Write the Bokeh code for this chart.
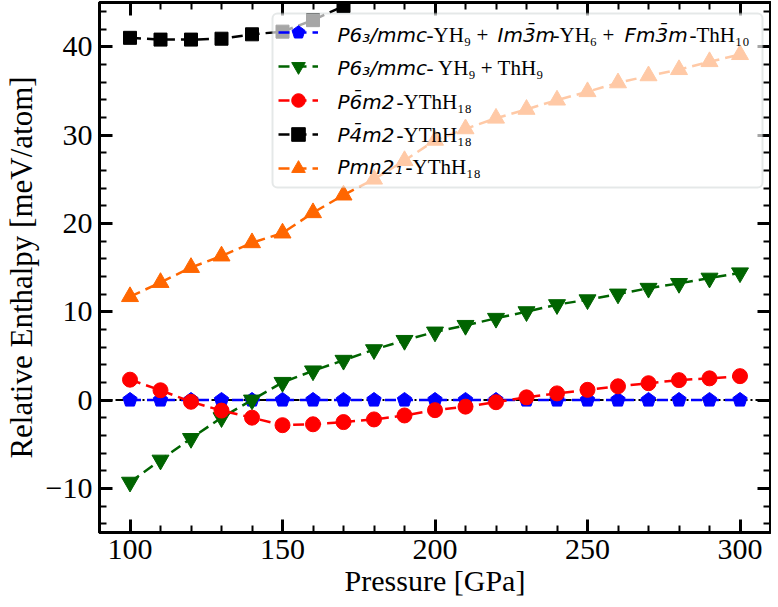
from bokeh.plotting import figure
from bokeh.models import (FixedTicker, LinearAxis, Range1d, Span, Legend, LegendItem,
                          Label, CustomJSTickFormatter, BoxAnnotation)
from bokeh.embed import file_html
from bokeh.resources import INLINE

# ---------------- data ----------------
pressure = [100, 110, 120, 130, 140, 150, 160, 170, 180, 190, 200,
            210, 220, 230, 240, 250, 260, 270, 280, 290, 300]
mix_yh9_yh6_thh10 = [0.0, 0.0, 0.0, 0.0, 0.0, 0.0, 0.0, 0.0, 0.0, 0.0, 0.0,
                     0.0, 0.0, 0.0, 0.0, 0.0, 0.0, 0.0, 0.0, 0.0, 0.0]
mix_yh9_thh9 = [-9.3, -6.8, -4.35, -2.0, 0.0, 2.0, 3.3, 4.5, 5.7, 6.75, 7.7,
                8.45, 9.25, 10.0, 10.8, 11.35, 12.0, 12.65, 13.2, 13.8, 14.4]
p6m2_ythh18 = [2.3, 1.1, -0.2, -1.2, -2.0, -2.85, -2.75, -2.5, -2.2, -1.75, -1.15,
               -0.75, -0.25, 0.3, 0.75, 1.15, 1.55, 1.9, 2.25, 2.45, 2.7]
pressure_p4m2 = [100, 110, 120, 130, 140, 150, 160, 170]
p4m2_ythh18 = [41.0, 40.8, 40.8, 40.9, 41.4, 41.7, 43.0, 44.6]
pmn21_ythh18 = [11.7, 13.3, 15.0, 16.3, 17.8, 18.9, 21.2, 23.2, 25.0, 27.1, 29.4,
                30.7, 31.9, 32.9, 33.95, 34.9, 35.9, 36.7, 37.4, 38.3, 39.1]

x_major = [100, 150, 200, 250, 300]
x_minor = [90, 110, 120, 130, 140, 160, 170, 180, 190, 210, 220, 230, 240,
           260, 270, 280, 290, 310]
y_major = [-10, 0, 10, 20, 30, 40]
y_minor = [-14, -12, -8, -6, -4, -2, 2, 4, 6, 8, 12, 14, 16, 18, 22, 24, 26, 28,
           32, 34, 36, 38, 42, 44]

# legend text: (text, kind) kind = "m" (math italic sans) or "r" (roman serif)
legend_rows = [
    [("P6₃/mmc", "m"), ("-YH₉ + ", "r"), ("Im3̄m", "m"), ("-YH₆ + ", "r"),
     ("Fm3̄m", "m"), ("-ThH₁₀", "r")],
    [("P6₃/mmc", "m"), (" - YH₉ + ThH₉", "r")],
    [("P6̄m2", "m"), ("-YThH₁₈", "r")],
    [("P4̄m2", "m"), ("-YThH₁₈", "r")],
    [("Pmn2₁", "m"), ("-YThH₁₈", "r")],
]
# segment start x and row baselines (page px) -- layout only
legend_seg_x = [[337, 426, 497, 552, 624, 689], [337, 426], [337, 396], [337, 396], [337, 405]]
legend_baseline = [41, 74, 108, 141, 173]
legend_box = (272, 762, 13, 187)  # left, right, top, bottom (page px)

SERIF = "Liberation Serif"
SANS = "DejaVu Sans"

FRAME_LEFT = 99
FRAME_BOTTOM = 532

p = figure(width=771, height=599, x_range=Range1d(90, 310), y_range=Range1d(-15, 45),
           output_backend="svg", toolbar_location=None,
           min_border_left=FRAME_LEFT, min_border_right=1, min_border_top=2,
           min_border_bottom=599 - FRAME_BOTTOM)
p.xgrid.visible = False
p.ygrid.visible = False
p.outline_line_color = "black"
p.outline_line_width = 3
p.background_fill_color = "white"

zero = Span(location=0, dimension="width", line_color="black", line_width=2,
            line_dash="8 3 2 3", level="underlay")
p.add_layout(zero)

DASH = "11 6"
LW = 2.5

b_line = p.line(pressure, mix_yh9_yh6_thh10, line_color="blue", line_width=LW, line_dash=DASH)
try:
    b_mark = p.ngon(pressure, mix_yh9_yh6_thh10, radius=7.5, radius_units="screen", n=5,
                    angle=0, fill_color="blue", line_color="blue")
except Exception:
    b_mark = p.scatter(pressure, mix_yh9_yh6_thh10, marker="hex", size=13,
                       fill_color="blue", line_color="blue")

g_line = p.line(pressure, mix_yh9_thh9, line_color="#006400", line_width=LW, line_dash=DASH)
g_mark = p.scatter(pressure, mix_yh9_thh9, marker="inverted_triangle", size=17,
                   fill_color="#006400", line_color="#006400")

r_line = p.line(pressure, p6m2_ythh18, line_color="red", line_width=LW, line_dash=DASH)
r_mark = p.scatter(pressure, p6m2_ythh18, marker="circle", size=15,
                   fill_color="red", line_color="red")

k_line = p.line(pressure_p4m2, p4m2_ythh18, line_color="black", line_width=LW, line_dash=DASH)
k_mark = p.scatter(pressure_p4m2, p4m2_ythh18, marker="square", size=13,
                   fill_color="black", line_color="black")

o_line = p.line(pressure, pmn21_ythh18, line_color="#ff6600", line_width=LW, line_dash=DASH)
o_mark = p.scatter(pressure, pmn21_ythh18, marker="triangle", size=17,
                   fill_color="#ff6600", line_color="#ff6600")

# axes
for ax in (p.xaxis[0], p.yaxis[0]):
    ax.axis_line_width = 3
    ax.major_tick_line_width = 3
    ax.minor_tick_line_width = 2
    ax.major_tick_in = 13
    ax.major_tick_out = 0
    ax.minor_tick_in = 7
    ax.minor_tick_out = 0
    ax.major_label_text_font = SERIF
    ax.major_label_text_font_size = "30px"
    ax.major_label_text_color = "black"
    ax.axis_label_text_font = SERIF
    ax.axis_label_text_font_size = "30px"
    ax.axis_label_text_font_style = "normal"
    ax.axis_label_text_color = "black"

p.xaxis[0].ticker = FixedTicker(ticks=x_major, minor_ticks=x_minor)
p.yaxis[0].ticker = FixedTicker(ticks=y_major, minor_ticks=y_minor)
p.yaxis[0].major_label_overrides = {-10: "−10"}
p.xaxis[0].axis_label = "Pressure [GPa]"
p.yaxis[0].axis_label = "Relative Enthalpy [meV/atom]"
p.yaxis[0].axis_label_text_font_size = "31px"
p.xaxis[0].major_label_standoff = 7
p.yaxis[0].major_label_standoff = 7
p.xaxis[0].axis_label_standoff = 2
p.yaxis[0].axis_label_standoff = 4

for side, tk in (("above", FixedTicker(ticks=x_major, minor_ticks=x_minor)),
                 ("right", FixedTicker(ticks=y_major, minor_ticks=y_minor))):
    ax = LinearAxis(ticker=tk, formatter=CustomJSTickFormatter(code="return ''"))
    ax.axis_line_width = 3
    ax.major_tick_line_width = 3
    ax.minor_tick_line_width = 2
    ax.major_tick_in = 13
    ax.major_tick_out = 0
    ax.minor_tick_in = 7
    ax.minor_tick_out = 0
    ax.major_label_standoff = 0
    ax.major_label_text_font_size = "1px"
    p.add_layout(ax, side)

# semi-transparent legend frame (drawn as a box so the text can sit on top of it)
bl, br, bt, bb = legend_box
box = BoxAnnotation(left=bl - FRAME_LEFT, right=br - FRAME_LEFT,
                    top=FRAME_BOTTOM - bt, bottom=FRAME_BOTTOM - bb,
                    left_units="screen", right_units="screen",
                    top_units="screen", bottom_units="screen",
                    fill_color="white", fill_alpha=0.65,
                    line_color="#a9b2b2", line_width=2, border_radius=5,
                    level="annotation")
p.add_layout(box)

legend = Legend(items=[
    LegendItem(label=" ", renderers=[b_line, b_mark]),
    LegendItem(label=" ", renderers=[g_line, g_mark]),
    LegendItem(label=" ", renderers=[r_line, r_mark]),
    LegendItem(label=" ", renderers=[k_line, k_mark]),
    LegendItem(label=" ", renderers=[o_line, o_mark]),
], location="top_right", margin=8, padding=5, spacing=0, glyph_width=40, glyph_height=34,
    label_height=34, label_width=423, label_standoff=16, label_text_alpha=0,
    label_text_font_size="10px",
    background_fill_alpha=0, border_line_alpha=0)
p.add_layout(legend)

for row, xs, base in zip(legend_rows, legend_seg_x, legend_baseline):
    for (txt, kind), px in zip(row, xs):
        lab = Label(x=px - FRAME_LEFT, y=FRAME_BOTTOM - (base - 7),
                    x_units="screen", y_units="screen", text=txt,
                    text_baseline="middle", text_align="left", text_color="black",
                    text_font=SANS if kind == "m" else SERIF,
                    text_font_style="italic" if kind == "m" else "normal",
                    text_font_size="20px" if kind == "m" else "21px")
        p.add_layout(lab)

open("out.html", "w").write(file_html(p, INLINE))
